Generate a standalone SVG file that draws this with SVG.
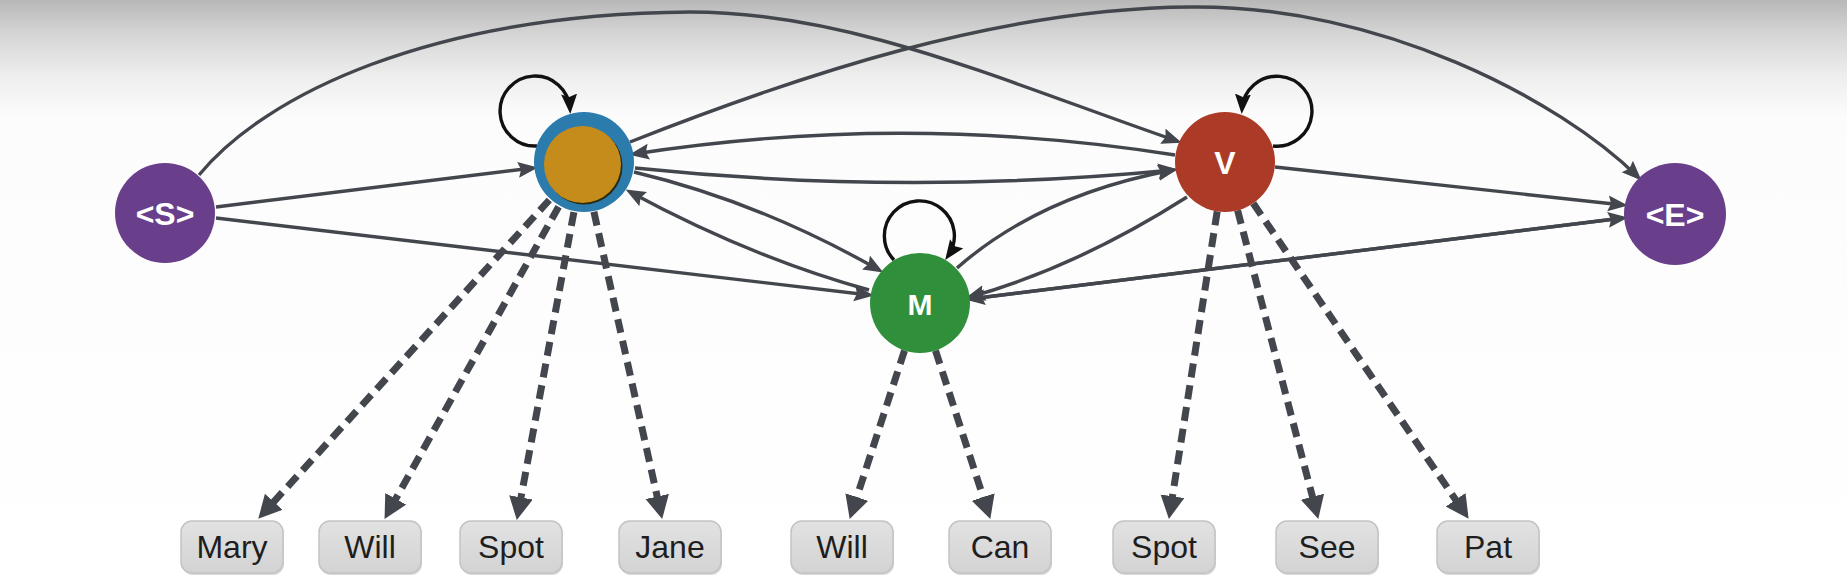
<svg xmlns="http://www.w3.org/2000/svg" width="1847" height="586" viewBox="0 0 1847 586">
  <defs>
    <linearGradient id="bg" x1="0" y1="0" x2="0" y2="1">
      <stop offset="0" stop-color="#b8b8b8"/>
      <stop offset="0.06" stop-color="#d6d6d6"/>
      <stop offset="0.13" stop-color="#eeeeee"/>
      <stop offset="0.2" stop-color="#fcfcfc"/>
      <stop offset="1" stop-color="#ffffff"/>
    </linearGradient>
    <linearGradient id="boxfill" x1="0" y1="0" x2="0" y2="1">
      <stop offset="0" stop-color="#e2e2e2"/>
      <stop offset="1" stop-color="#d3d3d3"/>
    </linearGradient>
    <marker id="arr" markerUnits="userSpaceOnUse" markerWidth="22" markerHeight="18" refX="15" refY="8" orient="auto" viewBox="0 0 22 18">
      <path d="M0,0 L20,8 L0,16 L3,8 z" fill="#43474d"/>
    </marker>
    <marker id="arrLoop" markerUnits="userSpaceOnUse" markerWidth="22" markerHeight="18" refX="15" refY="8" orient="auto" viewBox="0 0 22 18">
      <path d="M0,0 L20,8 L0,16 L3,8 z" fill="#111111"/>
    </marker>
    <marker id="arrDash" markerUnits="userSpaceOnUse" markerWidth="26" markerHeight="26" refX="12" refY="12" orient="auto" viewBox="0 0 26 26">
      <path d="M0,0 L23,12 L0,24 z" fill="#43474d"/>
    </marker>
  </defs>
  <style>
    .edge { fill: none; stroke: #43474d; stroke-width: 3.4; marker-end: url(#arr); }
    .loop { fill: none; stroke: #111111; stroke-width: 3.4; marker-end: url(#arrLoop); }
    .emit { fill: none; stroke: #43474d; stroke-width: 7; stroke-dasharray: 14 8; marker-end: url(#arrDash); }
    .lbl { font-family: "Liberation Sans", Arial, sans-serif; font-weight: bold; font-size: 32px; fill: #ffffff; text-anchor: middle; }
    .word { font-family: "Liberation Sans", Arial, sans-serif; font-size: 32px; fill: #1e1e1e; text-anchor: middle; }
    .box { fill: url(#boxfill); stroke: #c3c3c3; stroke-width: 1.5; }
    .shadow { fill: #bdbdbd; opacity: 0.6; }
  </style>
  <rect x="0" y="0" width="1847" height="586" fill="url(#bg)"/>

  <g id="connectors">
    <!-- transitions -->
    <path class="edge" d="M199,175 C265,95 430,14 690,12 C850,12 1000,80 1177,141"/>
    <path class="edge" d="M630,142 C800,75 1000,8 1191,7 C1380,5 1560,100 1638,177"/>
    <path class="edge" d="M216,207 L533,168"/>
    <path class="edge" d="M216,218 L869,295"/>
    <path class="edge" d="M1175,155 Q904,112 634,154"/>
    <path class="edge" d="M635,168 Q904,196 1173,170"/>
    <path class="edge" d="M634,172 Q760,202 879,270"/>
    <path class="edge" d="M869,290 Q750,257 630,192"/>
    <path class="edge" d="M957,268 Q1040,195 1173,170"/>
    <path class="edge" d="M1187,197 Q1077,267 970,297"/>
    <path class="edge" d="M970,299 L1623,218"/>
    <path class="edge" d="M1623,218 L970,299"/>
    <path class="edge" d="M1275,167 L1623,205"/>
    <!-- self loops -->
    <path class="loop" d="M537,146 A35,35 0 1 1 570,109"/>
    <path class="loop" d="M1273,146 A35,35 0 1 0 1242,109"/>
    <path class="loop" d="M894,260 A35,35 0 1 1 948,256"/>
    <!-- emissions -->
    <path class="emit" d="M549.3,200 L265.7,510.6"/>
    <path class="emit" d="M558.6,206.7 L389.9,509.3"/>
    <path class="emit" d="M573.9,212.2 L518.8,509.2"/>
    <path class="emit" d="M593.9,211.8 L659.8,508.2"/>
    <path class="emit" d="M904.5,350.6 L853.1,508.5"/>
    <path class="emit" d="M935.5,350.6 L986.9,508.5"/>
    <path class="emit" d="M1217.2,211.4 L1170.6,508.1"/>
    <path class="emit" d="M1237.6,210.4 L1315.5,508.3"/>
    <path class="emit" d="M1253.2,203.3 L1462.4,509.7"/>
  </g>

  <g id="node-start">
    <circle cx="165" cy="213" r="50" fill="#693e8b"/>
    <text class="lbl" x="165" y="225">&lt;S&gt;</text>
  </g>
  <g id="node-noun">
    <circle cx="584" cy="162" r="50" fill="#2b7bad"/>
    <circle cx="584" cy="166" r="38.5" fill="#2a2a10"/>
    <circle cx="582.5" cy="164.5" r="38.5" fill="#c58c1b"/>
  </g>
  <g id="node-verb">
    <circle cx="1225" cy="162" r="50" fill="#ab3a27"/>
    <text class="lbl" x="1225" y="174">V</text>
  </g>
  <g id="node-modal">
    <circle cx="920" cy="303" r="50" fill="#2f8f3b"/>
    <text class="lbl" x="920" y="315" style="font-size:30px">M</text>
  </g>
  <g id="node-end">
    <circle cx="1675" cy="214" r="51" fill="#693e8b"/>
    <text class="lbl" x="1675" y="226">&lt;E&gt;</text>
  </g>

  <g id="word-mary">
    <rect class="shadow" x="182" y="523" width="102" height="52" rx="11"/>
    <rect class="box" x="181" y="521" width="102" height="52" rx="11"/>
    <text class="word" x="232" y="558">Mary</text>
  </g>
  <g id="word-will-n">
    <rect class="shadow" x="320" y="523" width="102" height="52" rx="11"/>
    <rect class="box" x="319" y="521" width="102" height="52" rx="11"/>
    <text class="word" x="370" y="558">Will</text>
  </g>
  <g id="word-spot-n">
    <rect class="shadow" x="461" y="523" width="102" height="52" rx="11"/>
    <rect class="box" x="460" y="521" width="102" height="52" rx="11"/>
    <text class="word" x="511" y="558">Spot</text>
  </g>
  <g id="word-jane">
    <rect class="shadow" x="620" y="523" width="102" height="52" rx="11"/>
    <rect class="box" x="619" y="521" width="102" height="52" rx="11"/>
    <text class="word" x="670" y="558">Jane</text>
  </g>
  <g id="word-will-m">
    <rect class="shadow" x="792" y="523" width="102" height="52" rx="11"/>
    <rect class="box" x="791" y="521" width="102" height="52" rx="11"/>
    <text class="word" x="842" y="558">Will</text>
  </g>
  <g id="word-can">
    <rect class="shadow" x="950" y="523" width="102" height="52" rx="11"/>
    <rect class="box" x="949" y="521" width="102" height="52" rx="11"/>
    <text class="word" x="1000" y="558">Can</text>
  </g>
  <g id="word-spot-v">
    <rect class="shadow" x="1114" y="523" width="102" height="52" rx="11"/>
    <rect class="box" x="1113" y="521" width="102" height="52" rx="11"/>
    <text class="word" x="1164" y="558">Spot</text>
  </g>
  <g id="word-see">
    <rect class="shadow" x="1277" y="523" width="102" height="52" rx="11"/>
    <rect class="box" x="1276" y="521" width="102" height="52" rx="11"/>
    <text class="word" x="1327" y="558">See</text>
  </g>
  <g id="word-pat">
    <rect class="shadow" x="1438" y="523" width="102" height="52" rx="11"/>
    <rect class="box" x="1437" y="521" width="102" height="52" rx="11"/>
    <text class="word" x="1488" y="558">Pat</text>
  </g>
</svg>
